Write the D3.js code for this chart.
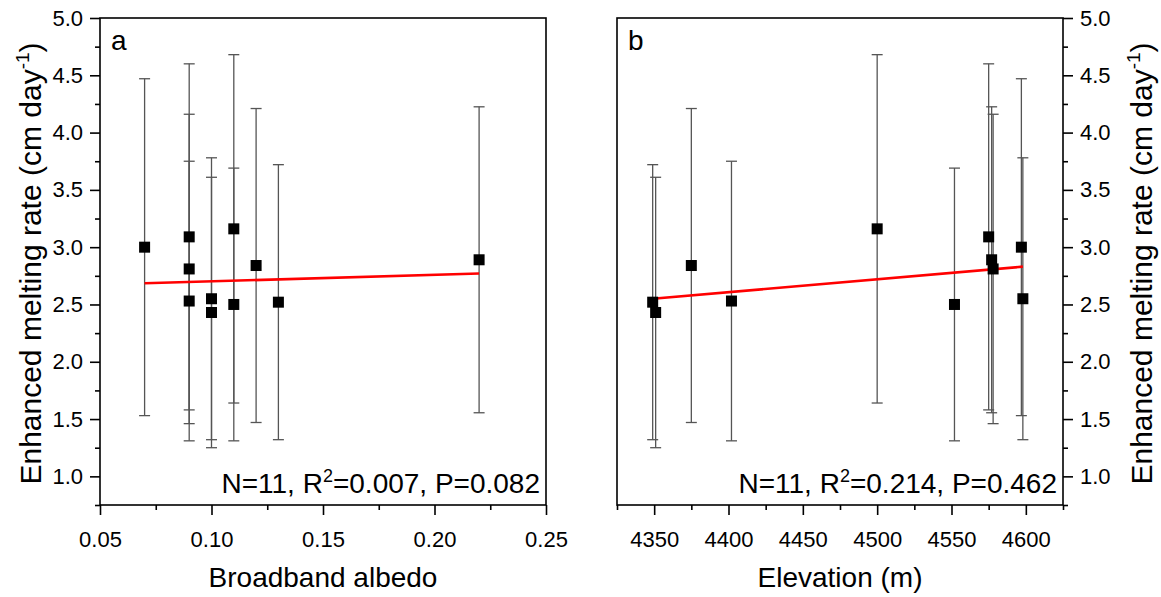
<!DOCTYPE html>
<html><head><meta charset="utf-8">
<script src="https://cdn.jsdelivr.net/npm/d3@7"></script>
<style>
html,body{margin:0;padding:0;background:#fff;}
svg{display:block;font-family:"Liberation Sans",Arial,sans-serif;}
</style></head>
<body>
<svg id="chart" width="1161" height="597"></svg>
<script>
// ---- data ----
const albedo    = [0.07, 0.09, 0.09, 0.09, 0.10, 0.10, 0.11, 0.11, 0.12, 0.13, 0.22];
const elevation = [4597, 4575, 4578, 4402, 4598, 4351, 4500, 4552, 4375, 4349, 4577];
const meltRate  = [3.00, 3.09, 2.81, 2.53, 2.55, 2.43, 3.16, 2.50, 2.84, 2.52, 2.89];
const meltErr   = [1.47, 1.51, 1.35, 1.22, 1.23, 1.18, 1.52, 1.19, 1.37, 1.20, 1.335];

const fitAlbedoX = [0.07, 0.22];
const fitAlbedoY = [2.685, 2.77];
const fitElevX = [4349, 4598];
const fitElevY = [2.55, 2.83];

const albedoTicks = [0.05, 0.10, 0.15, 0.20, 0.25];
const albedoMinor = [0.075, 0.125, 0.175, 0.225];
const elevTicks = [4350, 4400, 4450, 4500, 4550, 4600];
const elevMinor = [4325, 4375, 4425, 4475, 4525, 4575, 4625];
const rateTicks = [1.0, 1.5, 2.0, 2.5, 3.0, 3.5, 4.0, 4.5, 5.0];
const rateMinor = [0.75, 1.25, 1.75, 2.25, 2.75, 3.25, 3.75, 4.25, 4.75];

const panelLabels = ["a", "b"];
const statsA = ["N=11, R", "2", "=0.007, P=0.082"];
const statsB = ["N=11, R", "2", "=0.214, P=0.462"];
const xTitles = ["Broadband albedo", "Elevation (m)"];

// ---- layout ----
const svg = d3.select("#chart");
const plotTop = 18, plotBottom = 505;
const y = d3.scaleLinear().domain([0.75, 5.0]).range([plotBottom, plotTop]);

const panels = [
  {x: d3.scaleLinear().domain([0.05, 0.25]).range([100, 546]), xv: albedo, ticks: albedoTicks, minor: albedoMinor,
   fmt: d3.format(".2f"), fitX: fitAlbedoX, fitY: fitAlbedoY, label: panelLabels[0], stats: statsA, title: xTitles[0], ySide: "left"},
  {x: d3.scaleLinear().domain([4325, 4625]).range([617, 1063]), xv: elevation, ticks: elevTicks, minor: elevMinor,
   fmt: d3.format("d"), fitX: fitElevX, fitY: fitElevY, label: panelLabels[1], stats: statsB, title: xTitles[1], ySide: "right"}
];

panels.forEach(p => {
  const [x0, x1] = p.x.range();
  const g = svg.append("g");

  // error bars
  const eb = g.append("g").attr("stroke", "#555").attr("stroke-width", 1.3).attr("fill", "none");
  p.xv.forEach((xv, i) => {
    const cx = p.x(xv), hi = y(meltRate[i] + meltErr[i]), lo = y(meltRate[i] - meltErr[i]);
    eb.append("line").attr("x1", cx).attr("x2", cx).attr("y1", hi).attr("y2", lo);
    eb.append("line").attr("x1", cx - 5.5).attr("x2", cx + 5.5).attr("y1", hi).attr("y2", hi);
    eb.append("line").attr("x1", cx - 5.5).attr("x2", cx + 5.5).attr("y1", lo).attr("y2", lo);
  });

  // fit line
  g.append("line")
    .attr("x1", p.x(p.fitX[0])).attr("y1", y(p.fitY[0]))
    .attr("x2", p.x(p.fitX[1])).attr("y2", y(p.fitY[1]))
    .attr("stroke", "#ff0000").attr("stroke-width", 2.6);

  // points
  g.append("g").selectAll("rect").data(p.xv).join("rect")
    .attr("x", d => p.x(d) - 5.5).attr("y", (d, i) => y(meltRate[i]) - 5.5)
    .attr("width", 11).attr("height", 11).attr("fill", "#000");

  // frame
  g.append("rect").attr("x", x0).attr("y", plotTop).attr("width", x1 - x0).attr("height", plotBottom - plotTop)
    .attr("fill", "none").attr("stroke", "#000").attr("stroke-width", 1.6);

  // x axis
  const xa = g.append("g").attr("transform", `translate(0,${plotBottom})`)
    .call(d3.axisBottom(p.x).tickValues(p.ticks).tickFormat(p.fmt).tickSize(10).tickPadding(16));
  xa.select(".domain").remove();
  xa.selectAll("line").attr("stroke-width", 1.6);
  xa.selectAll("text").attr("font-size", 22).attr("fill", "#000");
  g.append("g").attr("transform", `translate(0,${plotBottom})`)
    .call(d3.axisBottom(p.x).tickValues(p.minor).tickFormat("").tickSize(5))
    .call(s => s.select(".domain").remove())
    .selectAll("line").attr("stroke-width", 1.6);

  // y axis
  const ax = p.ySide === "left" ? d3.axisLeft(y) : d3.axisRight(y);
  const axM = p.ySide === "left" ? d3.axisLeft(y) : d3.axisRight(y);
  const yx = p.ySide === "left" ? x0 : x1;
  const ya = g.append("g").attr("transform", `translate(${yx},0)`)
    .call(ax.tickValues(rateTicks).tickFormat(d3.format(".1f")).tickSize(10).tickPadding(7));
  ya.select(".domain").remove();
  ya.selectAll("line").attr("stroke-width", 1.6);
  ya.selectAll("text").attr("font-size", 22).attr("fill", "#000");
  g.append("g").attr("transform", `translate(${yx},0)`)
    .call(axM.tickValues(rateMinor).tickFormat("").tickSize(5))
    .call(s => s.select(".domain").remove())
    .selectAll("line").attr("stroke-width", 1.6);

  // panel label
  g.append("text").attr("x", x0 + 11).attr("y", 50).attr("font-size", 28).text(p.label);

  // stats
  const st = g.append("text").attr("x", x1 - 6).attr("y", 493).attr("text-anchor", "end").attr("font-size", 28);
  st.append("tspan").text(p.stats[0]);
  st.append("tspan").attr("dy", -11).attr("font-size", 18).text(p.stats[1]);
  st.append("tspan").attr("dy", 11).text(p.stats[2]);

  // x title
  g.append("text").attr("x", (x0 + x1) / 2).attr("y", 587).attr("text-anchor", "middle")
    .attr("font-size", 28).text(p.title);

  // y title
  const tx = p.ySide === "left" ? 41 : 1152;
  const yt = g.append("text").attr("transform", `translate(${tx},${(plotTop + plotBottom) / 2 + 2}) rotate(-90)`)
    .attr("text-anchor", "middle").attr("font-size", 30);
  yt.append("tspan").text("Enhanced melting rate (cm day");
  yt.append("tspan").attr("dy", -12).attr("font-size", 19).text("-1");
  yt.append("tspan").attr("dy", 12).text(")");
});
</script>
</body></html>
